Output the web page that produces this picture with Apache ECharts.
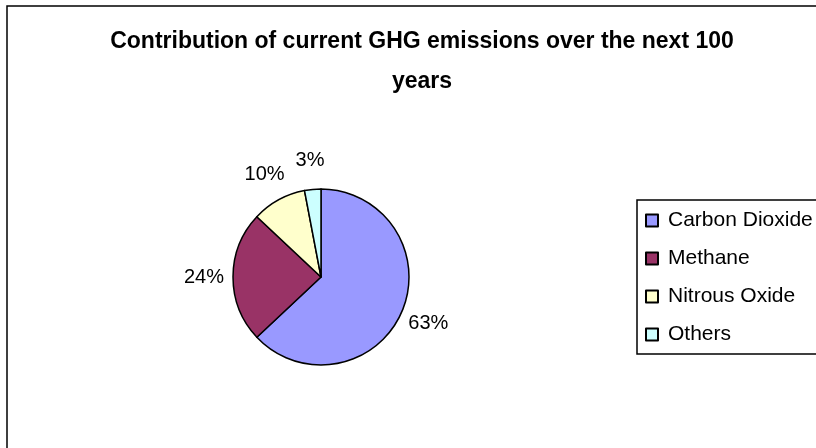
<!DOCTYPE html>
<html>
<head>
<meta charset="utf-8">
<script src="https://cdn.jsdelivr.net/npm/echarts@6/dist/echarts.min.js"></script>
<style>
  html, body { margin: 0; padding: 0; background: #fff; }
  #chart { width: 816px; height: 448px; }
</style>
</head>
<body>
<div id="chart"></div>
<script>
// Gas categories and their share (%) of warming over the next century
const gases = ['Carbon Dioxide', 'Methane', 'Nitrous Oxide', 'Others'];
const shares = [63, 24, 10, 3];
const sliceColors = ['#9999FF', '#993366', '#FFFFCC', '#CCFFFF'];
const titleText = 'Contribution of current GHG emissions over the next 100\nyears';

const chart = echarts.init(document.getElementById('chart'), null, { renderer: 'canvas' });

const font = '"Liberation Sans", Arial, sans-serif';
const pieCenter = [321, 277];

chart.setOption({
  animation: false,
  backgroundColor: '#ffffff',
  graphic: [{
    // frame around the chart area
    type: 'rect',
    shape: { x: 7, y: 6, width: 900, height: 900 },
    style: { fill: 'none', stroke: '#000', lineWidth: 1.5 },
    silent: true,
    z: -1
  }],
  title: {
    text: titleText,
    left: 417,
    textAlign: 'center',
    top: 17,
    textStyle: {
      fontFamily: font,
      fontWeight: 'bold',
      fontSize: 23,
      lineHeight: 40,
      color: '#000'
    }
  },
  legend: {
    orient: 'vertical',
    left: 637,
    top: 200,
    padding: [10, 12, 9, 8],
    borderColor: '#000',
    borderWidth: 1.5,
    itemWidth: 12,
    itemHeight: 12,
    itemGap: 17,
    icon: 'rect',
    data: gases,
    textStyle: {
      fontFamily: font,
      fontSize: 21,
      color: '#000',
      padding: [0, 0, 0, 5]
    }
  },
  series: [{
    // the pie itself
    type: 'pie',
    center: pieCenter,
    radius: 88,
    startAngle: 90,
    clockwise: true,
    data: gases.map((name, i) => ({
      name: name,
      value: shares[i],
      itemStyle: { color: sliceColors[i] }
    })),
    itemStyle: { borderColor: '#000', borderWidth: 1.5 },
    label: { show: false },
    labelLine: { show: false },
    emphasis: { disabled: true }
  }, {
    // invisible ring carrying the percentage labels just outside the pie
    type: 'pie',
    center: pieCenter,
    radius: [100, 128],
    startAngle: 90,
    clockwise: true,
    silent: true,
    legendHoverLink: false,
    data: gases.map((name, i) => ({ name: name, value: shares[i] })),
    itemStyle: { color: 'rgba(0,0,0,0)', borderWidth: 0 },
    label: {
      show: true,
      position: 'inside',
      formatter: '{c}%',
      fontFamily: font,
      fontSize: 20,
      color: '#000'
    },
    labelLine: { show: false },
    emphasis: { disabled: true }
  }]
});
</script>
</body>
</html>
